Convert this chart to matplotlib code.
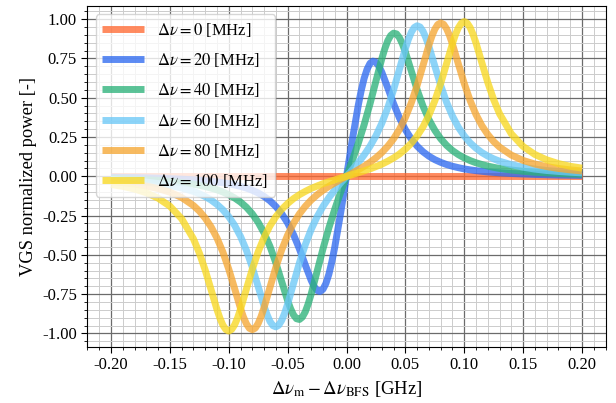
import matplotlib
matplotlib.use("Agg")
import matplotlib.pyplot as plt
from matplotlib.ticker import MultipleLocator, FormatStrFormatter

plt.rcParams['font.family'] = ['Liberation Serif', 'DejaVu Serif']
plt.rcParams['mathtext.fontset'] = 'stix'

# ---- data ----
x_dnu0 = [-0.20, 0.20]
y_dnu0 = [0.0, 0.0]

x_dnu20 = [-0.20, -0.19, -0.18, -0.17, -0.16, -0.15, -0.14,
           -0.13, -0.125, -0.12, -0.115, -0.11, -0.105, -0.10, -0.095, -0.09, -0.085,
           -0.08, -0.075, -0.07, -0.065, -0.06, -0.055, -0.05, -0.045, -0.04, -0.035,
           -0.03, -0.0275, -0.025, -0.0225, -0.02, -0.0175, -0.015, -0.0125, -0.01, -0.005,
           0.0,
           0.005, 0.01, 0.0125, 0.015, 0.0175, 0.02, 0.0225, 0.025, 0.0275, 0.03,
           0.035, 0.04, 0.045, 0.05, 0.055, 0.06, 0.065, 0.07, 0.075, 0.08,
           0.085, 0.09, 0.095, 0.10, 0.105, 0.11, 0.115, 0.12, 0.125, 0.13,
           0.14, 0.15, 0.16, 0.17, 0.18, 0.19, 0.20]
y_dnu20 = [-0.006, -0.007, -0.008, -0.010, -0.012, -0.015, -0.018,
           -0.022, -0.025, -0.028, -0.032, -0.036, -0.041, -0.047, -0.055, -0.064, -0.075,
           -0.089, -0.106, -0.128, -0.156, -0.192, -0.238, -0.297, -0.371, -0.462, -0.564,
           -0.662, -0.701, -0.726, -0.733, -0.719, -0.682, -0.624, -0.546, -0.452, -0.235,
           0.0,
           0.235, 0.452, 0.546, 0.624, 0.682, 0.719, 0.733, 0.726, 0.701, 0.662,
           0.564, 0.462, 0.371, 0.297, 0.238, 0.192, 0.156, 0.128, 0.106, 0.089,
           0.075, 0.064, 0.055, 0.047, 0.041, 0.036, 0.032, 0.028, 0.025, 0.022,
           0.018, 0.015, 0.012, 0.010, 0.008, 0.007, 0.006]

x_dnu40 = [-0.20, -0.19, -0.18, -0.17, -0.16, -0.15, -0.14,
           -0.13, -0.125, -0.12, -0.115, -0.11, -0.105, -0.10, -0.095, -0.09, -0.085,
           -0.08, -0.075, -0.07, -0.065, -0.06, -0.055, -0.05, -0.0475, -0.045, -0.0425,
           -0.04, -0.0375, -0.035, -0.0325, -0.03, -0.025, -0.02, -0.015, -0.01, -0.005,
           0.0,
           0.005, 0.01, 0.015, 0.02, 0.025, 0.03, 0.0325, 0.035, 0.0375, 0.04,
           0.0425, 0.045, 0.0475, 0.05, 0.055, 0.06, 0.065, 0.07, 0.075, 0.08,
           0.085, 0.09, 0.095, 0.10, 0.105, 0.11, 0.115, 0.12, 0.125, 0.13,
           0.14, 0.15, 0.16, 0.17, 0.18, 0.19, 0.20]
y_dnu40 = [-0.013, -0.015, -0.018, -0.022, -0.026, -0.032, -0.040,
           -0.050, -0.057, -0.065, -0.075, -0.086, -0.100, -0.117, -0.138, -0.164, -0.197,
           -0.239, -0.293, -0.361, -0.446, -0.551, -0.671, -0.791, -0.842, -0.882, -0.906,
           -0.911, -0.896, -0.862, -0.811, -0.749, -0.606, -0.462, -0.329, -0.210, -0.102,
           0.0,
           0.102, 0.210, 0.329, 0.462, 0.606, 0.749, 0.811, 0.862, 0.896, 0.911,
           0.906, 0.882, 0.842, 0.791, 0.671, 0.551, 0.446, 0.361, 0.293, 0.239,
           0.197, 0.164, 0.138, 0.117, 0.100, 0.086, 0.075, 0.065, 0.057, 0.050,
           0.040, 0.032, 0.026, 0.022, 0.018, 0.015, 0.013]

x_dnu60 = [-0.20, -0.19, -0.18, -0.17, -0.16, -0.15, -0.14,
           -0.13, -0.125, -0.12, -0.115, -0.11, -0.105, -0.10, -0.095, -0.09, -0.085,
           -0.08, -0.075, -0.07, -0.0675, -0.065, -0.0625, -0.06, -0.0575, -0.055, -0.0525,
           -0.05, -0.045, -0.04, -0.035, -0.03, -0.025, -0.02, -0.015, -0.01, -0.005,
           0.0,
           0.005, 0.01, 0.015, 0.02, 0.025, 0.03, 0.035, 0.04, 0.045, 0.05,
           0.0525, 0.055, 0.0575, 0.06, 0.0625, 0.065, 0.0675, 0.07, 0.075, 0.08,
           0.085, 0.09, 0.095, 0.10, 0.105, 0.11, 0.115, 0.12, 0.125, 0.13,
           0.14, 0.15, 0.16, 0.17, 0.18, 0.19, 0.20]
y_dnu60 = [-0.022, -0.026, -0.031, -0.037, -0.046, -0.058, -0.074,
           -0.096, -0.111, -0.129, -0.151, -0.179, -0.213, -0.257, -0.312, -0.383, -0.471,
           -0.579, -0.702, -0.826, -0.880, -0.923, -0.950, -0.958, -0.947, -0.916, -0.870,
           -0.813, -0.682, -0.551, -0.435, -0.338, -0.258, -0.192, -0.136, -0.087, -0.042,
           0.0,
           0.042, 0.087, 0.136, 0.192, 0.258, 0.338, 0.435, 0.551, 0.682, 0.813,
           0.870, 0.916, 0.947, 0.958, 0.950, 0.923, 0.880, 0.826, 0.702, 0.579,
           0.471, 0.383, 0.312, 0.257, 0.213, 0.179, 0.151, 0.129, 0.111, 0.096,
           0.074, 0.058, 0.046, 0.037, 0.031, 0.026, 0.022]

x_dnu80 = [-0.20, -0.19, -0.18, -0.17, -0.16, -0.15, -0.14,
           -0.13, -0.125, -0.12, -0.115, -0.11, -0.105, -0.10, -0.095, -0.09, -0.0875,
           -0.085, -0.0825, -0.08, -0.0775, -0.075, -0.0725, -0.07, -0.065, -0.06, -0.055,
           -0.05, -0.045, -0.04, -0.035, -0.03, -0.025, -0.02, -0.015, -0.01, -0.005,
           0.0,
           0.005, 0.01, 0.015, 0.02, 0.025, 0.03, 0.035, 0.04, 0.045, 0.05,
           0.055, 0.06, 0.065, 0.07, 0.0725, 0.075, 0.0775, 0.08, 0.0825, 0.085,
           0.0875, 0.09, 0.095, 0.10, 0.105, 0.11, 0.115, 0.12, 0.125, 0.13,
           0.14, 0.15, 0.16, 0.17, 0.18, 0.19, 0.20]
y_dnu80 = [-0.034, -0.041, -0.050, -0.062, -0.078, -0.101, -0.135,
           -0.186, -0.221, -0.266, -0.322, -0.393, -0.482, -0.591, -0.715, -0.841, -0.896,
           -0.939, -0.967, -0.976, -0.966, -0.936, -0.891, -0.835, -0.706, -0.579, -0.467,
           -0.374, -0.299, -0.239, -0.191, -0.151, -0.118, -0.089, -0.064, -0.042, -0.020,
           0.0,
           0.020, 0.042, 0.064, 0.089, 0.118, 0.151, 0.191, 0.239, 0.299, 0.374,
           0.467, 0.579, 0.706, 0.835, 0.891, 0.936, 0.966, 0.976, 0.967, 0.939,
           0.896, 0.841, 0.715, 0.591, 0.482, 0.393, 0.322, 0.266, 0.221, 0.186,
           0.135, 0.101, 0.078, 0.062, 0.050, 0.041, 0.034]

x_dnu100 = [-0.20, -0.19, -0.18, -0.17, -0.16, -0.15, -0.14,
            -0.13, -0.125, -0.12, -0.115, -0.11, -0.1075, -0.105, -0.1025, -0.10, -0.0975,
            -0.095, -0.0925, -0.09, -0.085, -0.08, -0.075, -0.07, -0.065, -0.06, -0.055,
            -0.05, -0.045, -0.04, -0.035, -0.03, -0.025, -0.02, -0.015, -0.01, -0.005,
            0.0,
            0.005, 0.01, 0.015, 0.02, 0.025, 0.03, 0.035, 0.04, 0.045, 0.05,
            0.055, 0.06, 0.065, 0.07, 0.075, 0.08, 0.085, 0.09, 0.0925, 0.095,
            0.0975, 0.10, 0.1025, 0.105, 0.1075, 0.11, 0.115, 0.12, 0.125, 0.13,
            0.14, 0.15, 0.16, 0.17, 0.18, 0.19, 0.20]
y_dnu100 = [-0.052, -0.064, -0.081, -0.105, -0.139, -0.190, -0.270,
            -0.398, -0.488, -0.597, -0.722, -0.848, -0.903, -0.947, -0.975, -0.985, -0.974,
            -0.945, -0.901, -0.845, -0.717, -0.591, -0.480, -0.389, -0.315, -0.257, -0.210,
            -0.173, -0.142, -0.117, -0.096, -0.077, -0.062, -0.047, -0.035, -0.023, -0.011,
            0.0,
            0.011, 0.023, 0.035, 0.047, 0.062, 0.077, 0.096, 0.117, 0.142, 0.173,
            0.210, 0.257, 0.315, 0.389, 0.480, 0.591, 0.717, 0.845, 0.901, 0.945,
            0.974, 0.985, 0.975, 0.947, 0.903, 0.848, 0.722, 0.597, 0.488, 0.398,
            0.270, 0.190, 0.139, 0.105, 0.081, 0.064, 0.052]

labels = [r'$\Delta\nu = 0$ [MHz]', r'$\Delta\nu = 20$ [MHz]', r'$\Delta\nu = 40$ [MHz]',
          r'$\Delta\nu = 60$ [MHz]', r'$\Delta\nu = 80$ [MHz]', r'$\Delta\nu = 100$ [MHz]']
colors = ['#FF6A33', '#2F6BF0', '#2DB27A', '#6CC8F7', '#F5A733', '#F8D821']

# ---- figure ----
fig = plt.figure(figsize=(6.16, 4.03), dpi=100)
ax = fig.add_axes([0.142, 0.140, 0.841, 0.845])

series = [(x_dnu0, y_dnu0), (x_dnu20, y_dnu20), (x_dnu40, y_dnu40),
          (x_dnu60, y_dnu60), (x_dnu80, y_dnu80), (x_dnu100, y_dnu100)]
for (xs, ys), lab, c in zip(series, labels, colors):
    ax.plot(xs, ys, color=c, lw=5, alpha=0.78, label=lab,
            solid_capstyle='butt', solid_joinstyle='round')

ax.xaxis.set_major_locator(MultipleLocator(0.05))
ax.xaxis.set_minor_locator(MultipleLocator(0.01))
ax.yaxis.set_major_locator(MultipleLocator(0.25))
ax.yaxis.set_minor_locator(MultipleLocator(0.05))
ax.xaxis.set_major_formatter(FormatStrFormatter('%.2f'))
ax.yaxis.set_major_formatter(FormatStrFormatter('%.2f'))

ax.grid(which='major', color='0.42', lw=0.9)
ax.grid(which='minor', color='0.8', lw=0.7)
ax.tick_params(which='major', direction='out', length=4, labelsize=12)
ax.tick_params(which='minor', direction='out', length=2)

ax.set_xlabel(r'$\Delta\nu_{\mathrm{m}} - \Delta\nu_{\mathrm{BFS}}$ [GHz]', fontsize=13.5)
ax.set_ylabel('VGS normalized power [-]', fontsize=13.3)

leg = ax.legend(loc='upper left', fontsize=12, handlelength=2.5, framealpha=0.8,
                labelspacing=0.72)

fig.savefig('out.png', dpi=100)
